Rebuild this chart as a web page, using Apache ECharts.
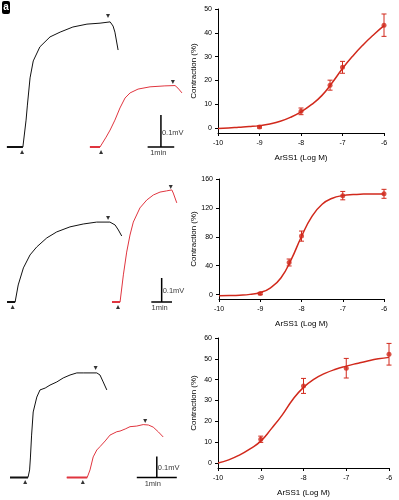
<!DOCTYPE html>
<html>
<head>
<meta charset="utf-8">
<script src="https://cdn.jsdelivr.net/npm/echarts@6/dist/echarts.min.js"></script>
<style>
html, body { margin: 0; padding: 0; background: #fff; }
#chart { width: 399px; height: 500px; }
</style>
</head>
<body>
<div id="chart"></div>
<script>
// ---- dose-response data (log M, % contraction) ----
const fitDose = [-10, -9.75, -9.5, -9.25, -9, -8.75, -8.5, -8.25, -8, -7.75, -7.5, -7.25, -7, -6.75, -6.5, -6.25, -6];
const fit1 = [-0.2, 0.0, 0.3, 0.6, 1.0, 1.7, 2.8, 4.5, 6.8, 9.8, 13.6, 19.0, 25.0, 30.3, 35.0, 39.2, 43.0];
const fit2 = [-1.4, -1.2, -0.7, 0.4, 3.0, 9.5, 23.0, 48.5, 80.5, 108, 125, 133.4, 137, 138.5, 139.1, 139.3, 139.4];
const fit3 = [0, 1.5, 3.8, 6.8, 10.5, 16.5, 23.0, 30.5, 36.3, 40.3, 43.0, 45.0, 46.5, 47.8, 49.0, 50.0, 50.7];

const dose1 = [-9, -8, -7.3, -7, -6];
const mean1 = [0.4, 7.0, 18.0, 25.5, 43.2];
const sem1 = [0.4, 1.4, 2.1, 2.5, 4.7];

const dose2 = [-9, -8.3, -8, -7, -6];
const mean2 = [1.5, 44.5, 81.0, 137.0, 139.5];
const sem2 = [1.5, 4.8, 7.0, 5.8, 6.2];

const dose3 = [-9, -8, -7, -6];
const mean3 = [11.4, 37.0, 45.5, 52.2];
const sem3 = [1.5, 3.6, 4.7, 5.2];

const ticks1 = [0, 10, 20, 30, 40, 50];
const ticks2 = [0, 40, 80, 120, 160];
const ticks3 = [0, 10, 20, 30, 40, 50, 60];

// ---- recordings [min, mV] ----
const black1 = [[0.26, 0], [0.86, 0], [0.98, 0.084], [1.03, 0.131], [1.13, 0.216], [1.25, 0.269], [1.5, 0.313], [1.88, 0.344], [2.26, 0.359], [2.74, 0.375], [3.27, 0.384], [3.76, 0.387], [4.14, 0.391], [4.25, 0.378], [4.32, 0.359], [4.44, 0.303]];
const red1 = [[3.38, 0], [3.76, 0], [3.99, 0.031], [4.14, 0.053], [4.32, 0.084], [4.51, 0.122], [4.7, 0.153], [4.89, 0.169], [5.19, 0.181], [5.64, 0.188], [6.2, 0.191], [6.58, 0.192], [6.69, 0.184], [6.84, 0.169]];
const on1 = [[0.83, -0.016], [3.8, -0.016]];
const off1 = [[4.06, 0.409], [6.5, 0.203]];

const black2 = [[0.34, 0], [0.73, 0], [0.88, 0.071], [1.13, 0.142], [1.45, 0.196], [1.77, 0.229], [2.26, 0.267], [2.74, 0.292], [3.38, 0.313], [4.02, 0.325], [4.67, 0.333], [5.31, 0.333], [5.56, 0.321], [5.72, 0.3], [5.88, 0.275]];
const red2 = [[5.41, 0], [5.8, 0], [5.96, 0.113], [6.12, 0.208], [6.28, 0.279], [6.44, 0.333], [6.76, 0.392], [7.09, 0.425], [7.41, 0.446], [7.73, 0.458], [8.05, 0.463], [8.3, 0.467], [8.37, 0.454], [8.54, 0.413]];
const on2 = [[0.61, -0.021], [5.7, -0.021]];
const off2 = [[5.22, 0.35], [8.25, 0.479]];

const black3 = [[0.25, 0], [0.7, 0], [0.74, 0.036], [0.76, 0.093], [0.79, 0.202], [0.83, 0.312], [0.92, 0.383], [1.0, 0.417], [1.13, 0.426], [1.25, 0.44], [1.42, 0.455], [1.58, 0.474], [1.75, 0.488], [1.92, 0.498], [2.08, 0.498], [2.25, 0.498], [2.42, 0.498], [2.5, 0.488], [2.58, 0.455], [2.67, 0.417]];
const red3 = [[1.67, 0], [2.18, 0], [2.21, 0.002], [2.25, 0.036], [2.33, 0.098], [2.42, 0.131], [2.5, 0.147], [2.63, 0.174], [2.75, 0.202], [2.92, 0.218], [3.0, 0.221], [3.13, 0.231], [3.25, 0.242], [3.42, 0.245], [3.58, 0.252], [3.71, 0.25], [3.83, 0.24], [3.96, 0.217], [4.08, 0.193]];
const on3 = [[0.63, -0.021], [2.07, -0.021]];
const off3 = [[2.39, 0.521], [3.63, 0.269]];

const RED = '#d1291c';
const TRACE_RED = '#e0353f';
const INK = '#000';
const FONT = 'Liberation Sans';

const grid = [];
const xAxis = [];
const yAxis = [];
const series = [];

// one recording panel: black + red trace, stim marks and a scale bar
function addTracePanel(box, xMax, yMin, yMax, black, red, on, off, barAt) {
  const gi = grid.length;
  grid.push(box);
  xAxis.push({ gridIndex: gi, type: 'value', min: 0, max: xMax, show: false });
  yAxis.push({ gridIndex: gi, type: 'value', min: yMin, max: yMax, show: false });
  const ax = { xAxisIndex: gi, yAxisIndex: gi, silent: true };
  const line = (data, color, width) => ({
    ...ax, type: 'line', data: data, showSymbol: false,
    lineStyle: { color: color, width: width }
  });
  series.push(line(black, '#111', 1));
  series.push(line(red, TRACE_RED, 1));
  series.push(line(black.slice(0, 2), '#111', 2));
  series.push(line(red.slice(0, 2), TRACE_RED, 2));
  series.push({ ...ax, type: 'scatter', data: on, symbol: 'triangle', symbolSize: 4, itemStyle: { color: INK } });
  series.push({ ...ax, type: 'scatter', data: off, symbol: 'triangle', symbolRotate: 180, symbolSize: 4, itemStyle: { color: INK } });
  // scale bar: 1 min x 0.1 mV
  series.push(line([[barAt - 0.5, 0], [barAt + 0.5, 0]], INK, 1.5));
  series.push(line([[barAt, 0], [barAt, 0.1]], INK, 1.5));
  const lab = { fontFamily: FONT, fontSize: 7.5, color: INK };
  series.push({
    ...ax, type: 'scatter', symbolSize: 0,
    data: [
      { value: [barAt, 0.045], label: { show: true, position: 'right', distance: 1, formatter: '0.1mV', ...lab } },
      { value: [barAt - 0.1, 0], label: { show: true, position: 'bottom', distance: 2, formatter: '1min', ...lab } }
    ]
  });
}

function addDosePanel(box, yMin, yMax, ticks, fit, dose, mean, sem) {
  const gi = grid.length;
  grid.push(box);
  const txt = { fontFamily: FONT, color: INK };
  xAxis.push({
    gridIndex: gi, type: 'value', min: -10, max: -6, interval: 1,
    name: 'ArSS1 (Log M)', nameLocation: 'middle', nameGap: 21,
    nameTextStyle: { ...txt, fontSize: 8 },
    axisLine: { onZero: false, lineStyle: { color: INK, width: 1 } },
    axisTick: { length: 3, lineStyle: { color: INK } },
    axisLabel: { ...txt, fontSize: 7, margin: 7 },
    splitLine: { show: false }
  });
  yAxis.push({
    gridIndex: gi, type: 'value', min: yMin, max: yMax,
    name: 'Contraction (%)', nameLocation: 'middle', nameGap: 20,
    nameTextStyle: { ...txt, fontSize: 8 },
    axisLine: { show: true, onZero: false, lineStyle: { color: INK, width: 1 } },
    axisTick: { show: true, length: 3, customValues: ticks, lineStyle: { color: INK } },
    axisLabel: { ...txt, fontSize: 7, margin: 6, customValues: ticks },
    splitLine: { show: false }
  });
  const ax = { xAxisIndex: gi, yAxisIndex: gi, silent: true };
  series.push({
    ...ax, type: 'line', smooth: true, showSymbol: false,
    data: fitDose.map((d, i) => [d, fit[i]]),
    lineStyle: { color: RED, width: 1.5 }
  });
  series.push({
    ...ax, type: 'custom',
    data: dose.map((d, i) => [d, mean[i] - sem[i], mean[i] + sem[i]]),
    encode: { x: 0, y: [1, 2] },
    renderItem: function (params, api) {
      const lo = api.coord([api.value(0), api.value(1)]);
      const hi = api.coord([api.value(0), api.value(2)]);
      const w = 2.5;
      const style = { stroke: RED, lineWidth: 1 };
      return {
        type: 'group',
        children: [
          { type: 'line', shape: { x1: lo[0], y1: lo[1], x2: hi[0], y2: hi[1] }, style: style },
          { type: 'line', shape: { x1: lo[0] - w, y1: lo[1], x2: lo[0] + w, y2: lo[1] }, style: style },
          { type: 'line', shape: { x1: hi[0] - w, y1: hi[1], x2: hi[0] + w, y2: hi[1] }, style: style }
        ]
      };
    }
  });
  series.push({
    ...ax, type: 'scatter', symbol: 'circle', symbolSize: 5,
    data: dose.map((d, i) => [d, mean[i]]),
    itemStyle: { color: RED }
  });
}

addTracePanel({ left: 0, top: 3, width: 199.5, height: 160 }, 7.5, -0.05, 0.45, black1, red1, on1, off1, 6.05);
addDosePanel({ left: 218, top: 9, width: 166, height: 124 }, -2.1, 50, ticks1, fit1, dose1, mean1, sem1);
addTracePanel({ left: 0, top: 170, width: 207, height: 144 }, 10, -0.05, 0.55, black2, red2, on2, off2, 7.81);
addDosePanel({ left: 219, top: 179, width: 165, height: 120 }, -6, 160, ticks2, fit2, dose2, mean2, sem2);
addTracePanel({ left: 0, top: 351.5, width: 200, height: 136.5 }, 5, -0.05, 0.6, black3, red3, on3, off3, 3.92);
addDosePanel({ left: 218, top: 338, width: 171, height: 130 }, -2.4, 60, ticks3, fit3, dose3, mean3, sem3);

const chart = echarts.init(document.getElementById('chart'));
chart.setOption({
  animation: false,
  grid: grid,
  xAxis: xAxis,
  yAxis: yAxis,
  series: series,
  graphic: [
    { type: 'rect', shape: { x: 2, y: 1, width: 8, height: 13, r: 2 }, style: { fill: '#000' } },
    { type: 'text', style: { text: 'a', x: 6, y: 7.5, fill: '#fff', font: 'bold 10px Liberation Sans', align: 'center', verticalAlign: 'middle' } }
  ]
});
</script>
</body>
</html>
